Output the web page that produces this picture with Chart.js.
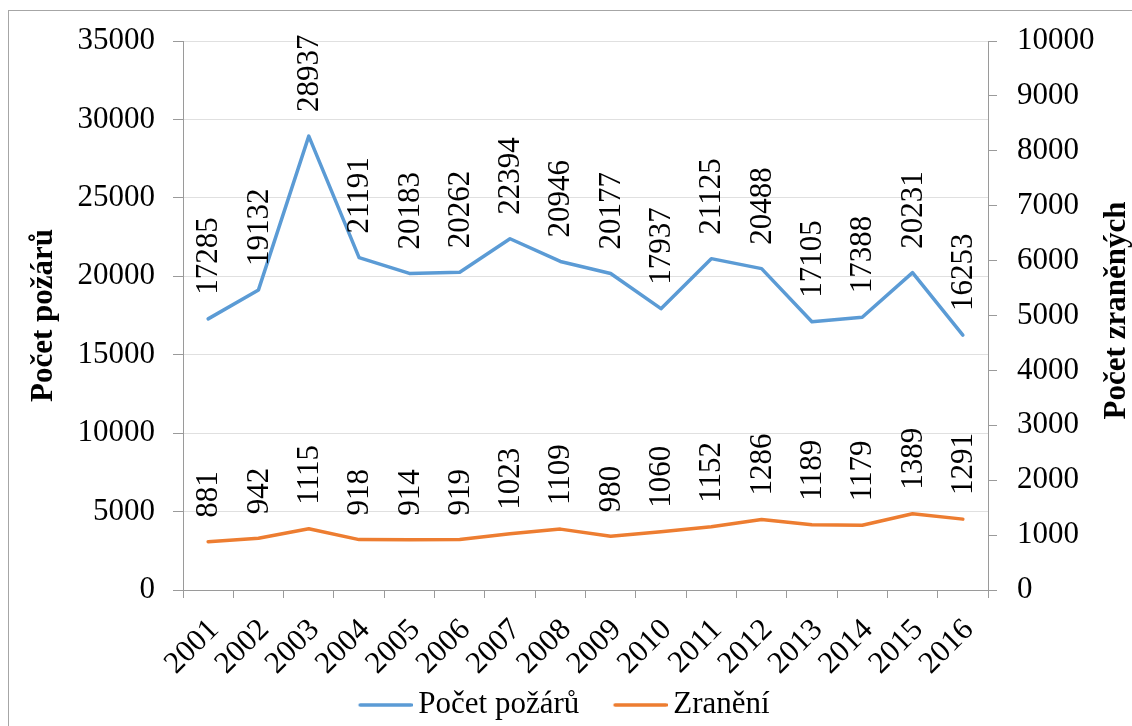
<!DOCTYPE html>
<html>
<head>
<meta charset="utf-8">
<title>Počet požárů a zranění 2001–2016</title>
<script src="https://cdn.jsdelivr.net/npm/chart.js@4/dist/chart.umd.min.js"></script>
<style>
  html, body { margin: 0; padding: 0; background: #fff; }
  #wrap { width: 1132px; height: 726px; }
</style>
</head>
<body>
<div id="wrap"><canvas id="c" width="1132" height="726"></canvas></div>
<script>
// Years on the category axis
const years = ['2001', '2002', '2003', '2004', '2005', '2006', '2007', '2008',
               '2009', '2010', '2011', '2012', '2013', '2014', '2015', '2016'];
// Number of fires (left axis)
const pocetPozaru = [17285, 19132, 28937, 21191, 20183, 20262, 22394, 20946,
                     20177, 17937, 21125, 20488, 17105, 17388, 20231, 16253];
// Number of injured (right axis)
const zraneni = [881, 942, 1115, 918, 914, 919, 1023, 1109,
                 980, 1060, 1152, 1286, 1189, 1179, 1389, 1291];
// Axis ranges
const leftAxis = { min: 0, max: 35000, step: 5000 };
const rightAxis = { min: 0, max: 10000, step: 1000 };
const seriesNames = ['Počet požárů', 'Zranění'];
const axisTitleLeft = 'Počet požárů';
const axisTitleRight = 'Počet zraněných';

const SERIF = "'Liberation Serif', 'DejaVu Serif', serif";
const AXIS_GREY = '#9a9a9a';
const GRID_GREY = '#e0e0e0';
const BLUE = '#5b9bd5';
const ORANGE = '#ed7d31';

// Plain integers, no thousands separator
const plainNumber = (v) => String(v);

// Legend key: a short horizontal stroke placed at the right of a wider transparent canvas,
// so the gap between key and text stays small while items stay well apart
const LEGEND_KEY_SLOT = 68.5;
function legendKey(color) {
  const w = Math.round(LEGEND_KEY_SLOT + 19);
  const c = document.createElement('canvas');
  c.width = w;
  c.height = 6;
  const g = c.getContext('2d');
  g.strokeStyle = color;
  g.lineWidth = 3.5;
  g.lineCap = 'round';
  g.beginPath();
  g.moveTo(w - 54 + 1.5, 3);
  g.lineTo(w - 1.5, 3);
  g.stroke();
  return c;
}

// White background and the outer frame of the chart
const frame = {
  id: 'frame',
  beforeDraw(chart) {
    const ctx = chart.ctx;
    ctx.save();
    ctx.fillStyle = '#fff';
    ctx.fillRect(0, 0, chart.width, chart.height);
    ctx.strokeStyle = '#a6a6a6';
    ctx.lineWidth = 1;
    ctx.strokeRect(8.5, 10.5, chart.width + 40, chart.height + 40);
    ctx.restore();
  }
};

// Both axis titles read bottom-to-top
const axisTitles = {
  id: 'axisTitles',
  afterDraw(chart) {
    const ctx = chart.ctx;
    const area = chart.chartArea;
    const midY = (area.top + area.bottom) / 2;
    ctx.save();
    ctx.fillStyle = '#000';
    ctx.font = 'bold 31px ' + SERIF;
    ctx.textAlign = 'center';
    ctx.textBaseline = 'middle';
    ctx.translate(44, midY);
    ctx.rotate(-Math.PI / 2);
    ctx.fillText(axisTitleLeft, 0, 0);
    ctx.restore();
    ctx.save();
    ctx.fillStyle = '#000';
    ctx.font = 'bold 31px ' + SERIF;
    ctx.textAlign = 'center';
    ctx.textBaseline = 'middle';
    ctx.translate(1117, midY - 5);
    ctx.rotate(-Math.PI / 2);
    ctx.fillText(axisTitleRight, 0, 0);
    ctx.restore();
  }
};

// Vertical value labels above every point
const valueLabels = {
  id: 'valueLabels',
  afterDatasetsDraw(chart) {
    const ctx = chart.ctx;
    chart.data.datasets.forEach((ds, i) => {
      const meta = chart.getDatasetMeta(i);
      meta.data.forEach((pt, j) => {
        ctx.save();
        ctx.fillStyle = '#000';
        ctx.font = '31px ' + SERIF;
        ctx.textAlign = 'left';
        ctx.textBaseline = 'middle';
        ctx.translate(pt.x + 1, pt.y - 24);
        ctx.rotate(-Math.PI / 2);
        ctx.fillText(String(ds.data[j]), 0, 0);
        ctx.restore();
      });
    });
  }
};

const chart = new Chart(document.getElementById('c'), {
  type: 'line',
  data: {
    labels: years,
    datasets: [
      {
        label: seriesNames[0],
        data: pocetPozaru,
        yAxisID: 'y',
        borderColor: BLUE,
        backgroundColor: BLUE,
        borderWidth: 3.5,
        pointRadius: 0,
        pointHoverRadius: 0,
        pointStyle: legendKey(BLUE),
        tension: 0,
        borderJoinStyle: 'round',
        borderCapStyle: 'round'
      },
      {
        label: seriesNames[1],
        data: zraneni,
        yAxisID: 'y2',
        borderColor: ORANGE,
        backgroundColor: ORANGE,
        borderWidth: 3.5,
        pointRadius: 0,
        pointHoverRadius: 0,
        pointStyle: legendKey(ORANGE),
        tension: 0,
        borderJoinStyle: 'round',
        borderCapStyle: 'round'
      }
    ]
  },
  options: {
    responsive: false,
    animation: false,
    devicePixelRatio: 1,
    layout: { padding: { left: 0, right: 28, top: 41, bottom: -4.5 } },
    plugins: {
      tooltip: { enabled: false },
      title: { display: false },
      legend: {
        position: 'bottom',
        labels: {
          usePointStyle: true,
          pointStyleWidth: LEGEND_KEY_SLOT,
          padding: 10,
          color: '#000',
          font: { family: SERIF, size: 31 }
        }
      }
    },
    scales: {
      x: {
        type: 'category',
        offset: true,
        afterFit(scale) { scale.height = 89.5; },
        grid: {
          offset: true,
          drawOnChartArea: false,
          drawTicks: true,
          tickLength: 8,
          tickColor: AXIS_GREY,
          tickWidth: 1
        },
        border: { display: true, color: AXIS_GREY, width: 1 },
        ticks: {
          minRotation: 45,
          maxRotation: 45,
          autoSkip: false,
          padding: 14,
          labelOffset: 6,
          color: '#000',
          font: { family: SERIF, size: 31 }
        }
      },
      y: {
        position: 'left',
        min: leftAxis.min,
        max: leftAxis.max,
        afterFit(scale) { scale.width = 183; },
        grid: {
          color: GRID_GREY,
          lineWidth: 1,
          drawTicks: true,
          tickLength: 10,
          tickColor: AXIS_GREY
        },
        border: { display: true, color: AXIS_GREY, width: 1 },
        ticks: {
          stepSize: leftAxis.step,
          padding: 18,
          color: '#000',
          callback: plainNumber,
          font: { family: SERIF, size: 31 }
        }
      },
      y2: {
        position: 'right',
        min: rightAxis.min,
        max: rightAxis.max,
        afterFit(scale) { scale.width = 116; },
        grid: {
          drawOnChartArea: false,
          drawTicks: true,
          tickLength: 9,
          tickColor: AXIS_GREY
        },
        border: { display: true, color: AXIS_GREY, width: 1 },
        ticks: {
          stepSize: rightAxis.step,
          padding: 20,
          color: '#000',
          callback: plainNumber,
          font: { family: SERIF, size: 31 }
        }
      }
    }
  },
  plugins: [frame, valueLabels, axisTitles]
});

// Redraw once the serif faces are ready so every text uses them
if (document.fonts && document.fonts.load) {
  Promise.all([
    document.fonts.load("31px 'Liberation Serif'"),
    document.fonts.load("bold 31px 'Liberation Serif'")
  ]).then(() => chart.update(), () => chart.update());
  document.fonts.ready.then(() => chart.update());
}
</script>
</body>
</html>
